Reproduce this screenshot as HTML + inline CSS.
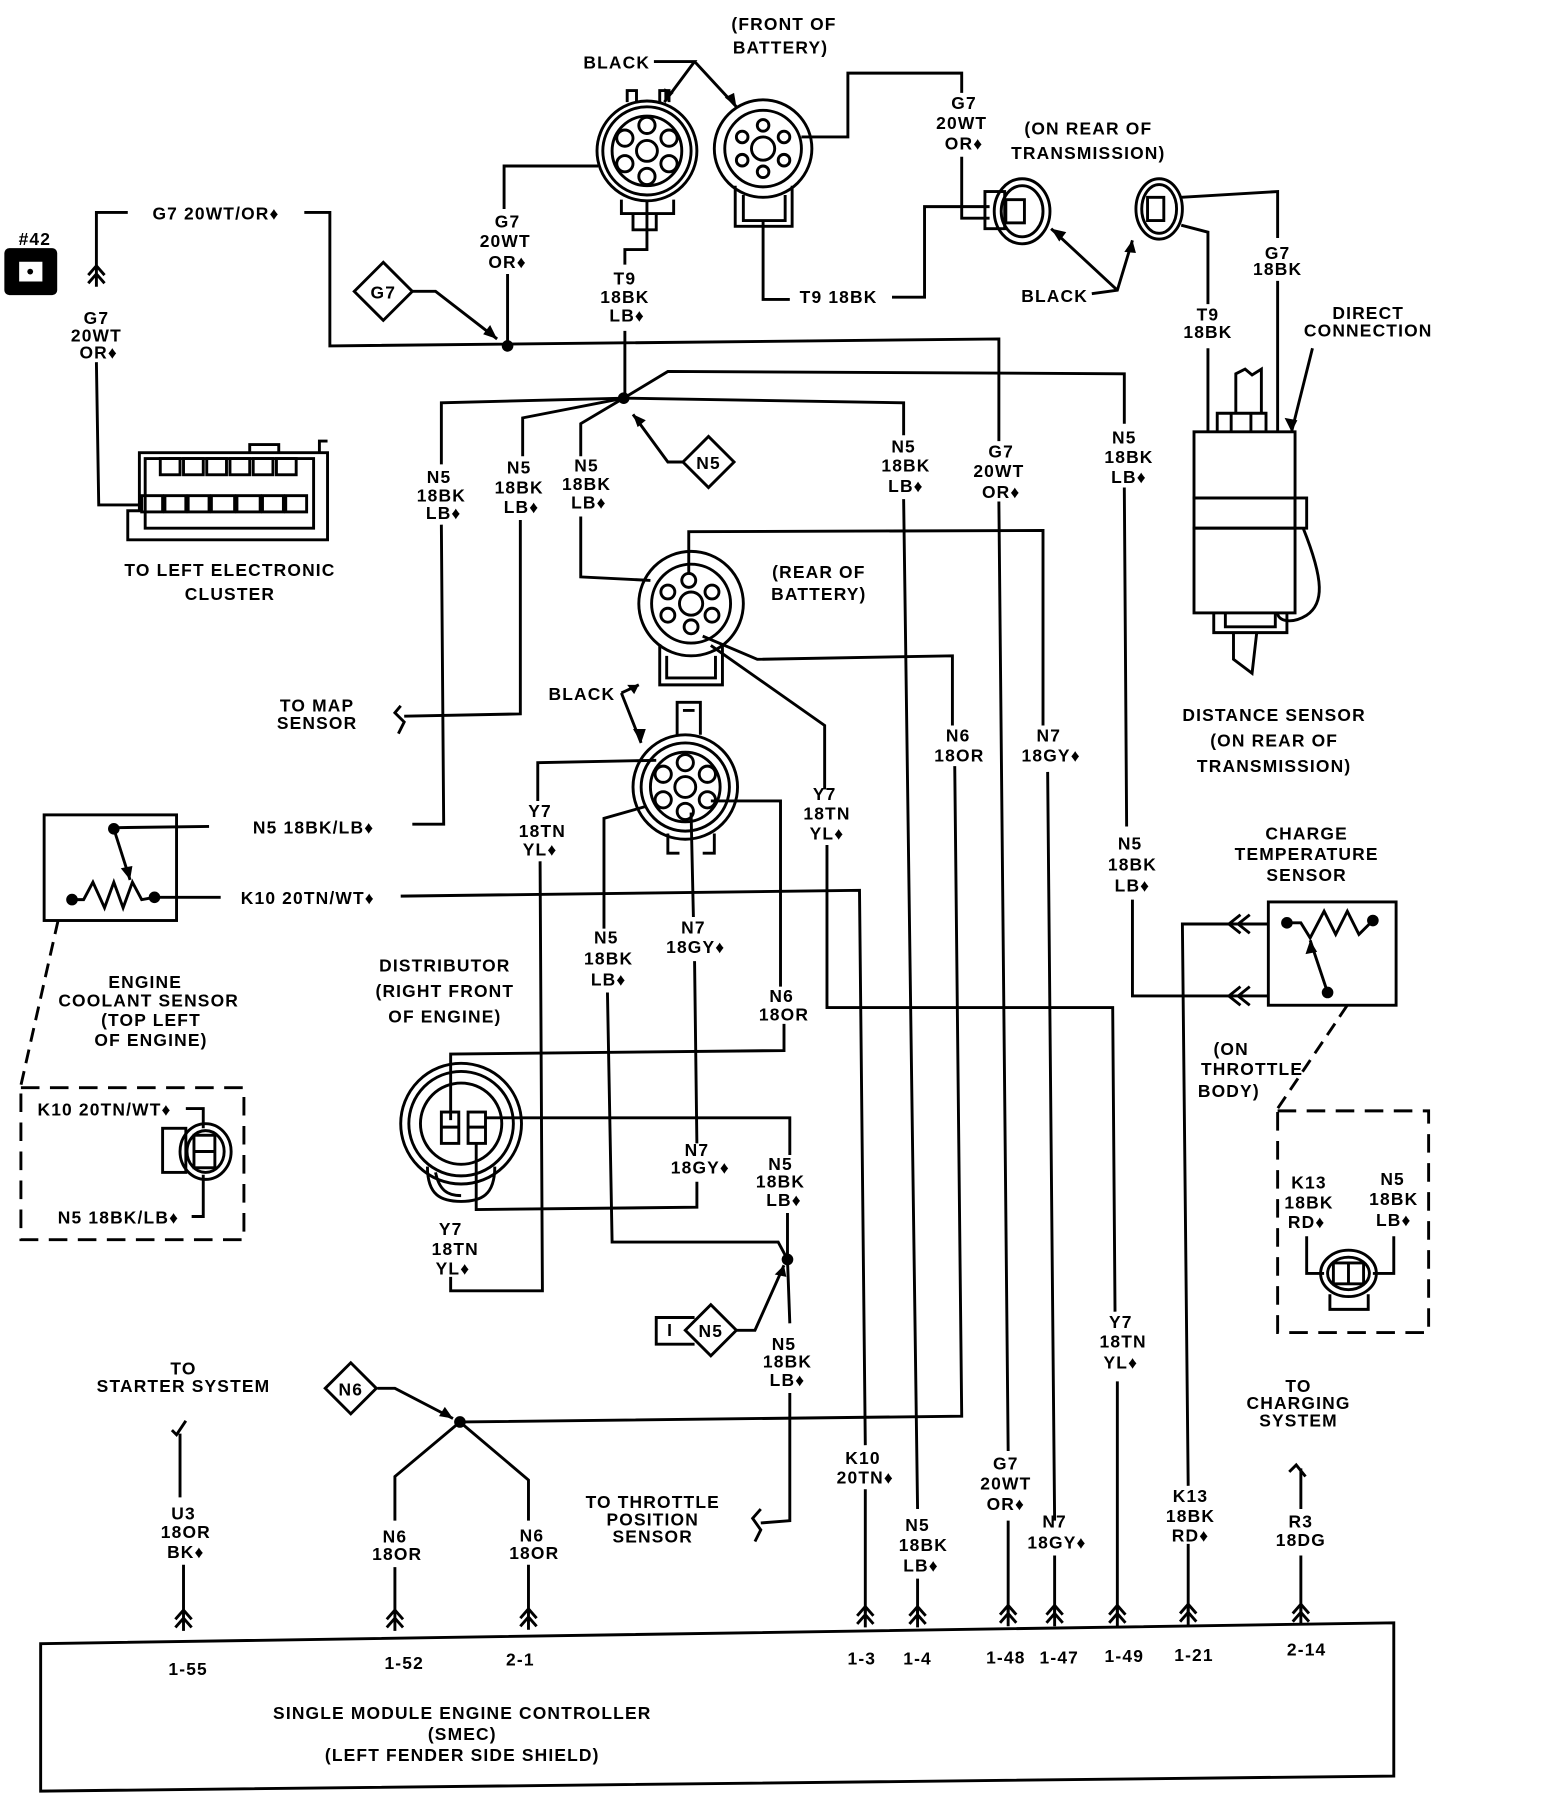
<!DOCTYPE html>
<html><head><meta charset="utf-8"><style>
html,body{margin:0;padding:0;background:#fff;}
svg{display:block;}
text{font-family:"Liberation Sans",sans-serif;font-weight:bold;font-size:15px;text-anchor:middle;fill:#000;letter-spacing:1px;}
</style></head><body>
<svg width="1568" height="1812" viewBox="0 0 1350 1561" preserveAspectRatio="none" xmlns="http://www.w3.org/2000/svg">
<defs>
<g id="ch" fill="none" stroke="#000" stroke-width="2.5"><path d="M-7,-8 L0,-16 L7,-8 M-7,-1 L0,-9 L7,-1 M0,-16 L0,2"/></g>
<g id="dot"><circle r="5" fill="#000"/></g>
</defs>
<g fill="none" stroke="#000" stroke-width="2.5" stroke-linejoin="miter">
<path d="M563,53 L598,53 L572,88 M598,53 L634,92"/>
<circle cx="557" cy="130" r="43"/><circle cx="557" cy="130" r="38"/><circle cx="557" cy="130" r="30"/>
<circle cx="557" cy="130" r="9"/>
<circle cx="557" cy="108" r="7"/><circle cx="538" cy="119" r="7"/><circle cx="576" cy="119" r="7"/><circle cx="538" cy="141" r="7"/><circle cx="576" cy="141" r="7"/><circle cx="557" cy="152" r="7"/>
<path d="M540,88 L540,78 L548,78 L548,88 M568,88 L568,78 L576,78 L576,88"/>
<path d="M535,172 L535,184 L580,184 L580,172 M545,184 L545,198 L565,198 L565,184"/>
<circle cx="657" cy="128" r="42"/><circle cx="657" cy="128" r="33"/><circle cx="657" cy="128" r="10"/>
<circle cx="657" cy="108" r="5"/><circle cx="639" cy="118" r="5"/><circle cx="675" cy="118" r="5"/><circle cx="639" cy="138" r="5"/><circle cx="675" cy="138" r="5"/><circle cx="657" cy="148" r="5"/>
<path d="M633,160 L633,195 L682,195 L682,160 M640,168 L640,190 L676,190 L676,168"/>
<path d="M515,143 L434,143 L434,180 M437,236 L437,298"/>
<path d="M557,172 L557,215 L538,215 L538,228 M538,285 L538,343"/>
<path d="M657,190 L657,258 L680,258 M768,256 L796,256 L796,178 L852,178"/>
<path d="M690,118 L730,118 L730,63 L828,63 L828,80 M828,135 L828,188 L852,188"/>
<rect x="848" y="165" width="17" height="32"/>
<ellipse cx="880" cy="182" rx="24" ry="28"/><ellipse cx="880" cy="182" rx="18" ry="22"/>
<rect x="866" y="172" width="16" height="20"/>
<ellipse cx="998" cy="180" rx="20" ry="26"/><ellipse cx="998" cy="180" rx="15" ry="21"/>
<rect x="988" y="170" width="14" height="20"/>
<path d="M940,253 L962,250 L975,207 M962,250 L905,197"/>
<path d="M1017,170 L1100,165 L1100,205 M1100,242 L1100,372 M1017,194 L1040,200 L1040,262 M1040,300 L1040,372"/>
<path d="M1130,300 L1112,372"/>
<rect x="1028" y="372" width="87" height="57"/>
<rect x="1028" y="429" width="87" height="26"/><rect x="1115" y="429" width="10" height="26"/>
<rect x="1028" y="455" width="87" height="73"/>
<path d="M1048,372 L1048,356 L1090,356 L1090,372 M1060,356 L1060,372 M1077,356 L1077,372 M1064,356 L1064,322 L1072,318 L1078,323 L1086,318 L1086,356"/>
<path d="M1045,528 L1045,545 L1108,545 L1108,528 M1055,528 L1055,540 L1098,540 L1098,528 M1062,545 L1062,568 L1078,580 L1082,545"/>
<path d="M1122,455 C1140,500 1140,520 1125,530 C1112,538 1100,535 1100,528"/>
<rect x="5" y="215" width="43" height="38" rx="3" fill="#000"/>
<rect x="17" y="226" width="19" height="16" fill="#fff" stroke="#fff" stroke-width="1"/>
<circle cx="26" cy="234" r="2.5" fill="#000" stroke="none"/>
<path d="M83,232 L83,183 L110,183 M262,183 L284,183 L284,298 L860,292 L860,380 M860,432 L868,1250 M868,1310 L868,1390"/>
<path d="M83,312 L85,435 L122,435"/>
<path d="M355,251 L375,251 L428,292"/>
<path d="M305,251 L330,226 L355,251 L330,276 Z"/>
<path d="M120,390 L282,390 L282,465 L110,465 L110,440 L120,440 Z"/>
<path d="M125,395 L270,395 L270,455 L125,455 Z"/>
<rect x="138" y="395" width="17" height="14"/><rect x="158" y="395" width="17" height="14"/><rect x="178" y="395" width="17" height="14"/><rect x="198" y="395" width="17" height="14"/><rect x="218" y="395" width="17" height="14"/><rect x="238" y="395" width="17" height="14"/>
<rect x="122" y="427" width="18" height="14"/><rect x="142" y="427" width="18" height="14"/><rect x="162" y="427" width="18" height="14"/><rect x="182" y="427" width="20" height="14"/><rect x="204" y="427" width="20" height="14"/><rect x="226" y="427" width="18" height="14"/><rect x="246" y="427" width="18" height="14"/>
<path d="M215,390 L215,383 L240,383 L240,390 M275,390 L275,380 L282,380"/>
<path d="M537,343 L380,347 L380,400 M380,452 L382,710 L355,710 M180,712 L100,713"/>
<path d="M537,343 L450,360 L450,393 M448,448 L448,615 L348,617"/>
<path d="M345,608 L340,614 L348,622 L343,632"/>
<path d="M537,343 L500,365 L500,393 M500,445 L500,497 L560,500"/>
<path d="M537,343 L575,320 L968,322 L968,365 M968,420 L970,712 M975,775 L975,858 L1092,858"/>
<path d="M537,343 L778,347 L778,375 M778,430 L790,1300 M790,1360 L790,1390"/>
<path d="M588,398 L575,398 L545,357"/>
<path d="M588,398 L610,376 L632,398 L610,420 Z"/>
<circle cx="595" cy="520" r="45"/><circle cx="595" cy="520" r="34"/><circle cx="595" cy="520" r="10"/>
<circle cx="593" cy="500" r="6"/><circle cx="575" cy="510" r="6"/><circle cx="613" cy="510" r="6"/><circle cx="575" cy="530" r="6"/><circle cx="613" cy="530" r="6"/><circle cx="595" cy="540" r="6"/>
<path d="M568,555 L568,590 L622,590 L622,555 M574,565 L574,584 L616,584 L616,565"/>
<path d="M593,494 L593,458 L898,457 L898,625 M902,665 L908,1310 M908,1340 L908,1390"/>
<path d="M605,548 L652,568 L820,565 L820,625 M822,660 L828,1220 L398,1225"/>
<path d="M612,556 L710,625 L710,680 M712,728 L712,868 L958,868 L960,1130 M962,1190 L962,1390"/>
<path d="M535,597 L550,590 M535,597 L552,640"/>
<circle cx="590" cy="678" r="45"/><circle cx="590" cy="678" r="38"/><circle cx="590" cy="678" r="30"/><circle cx="590" cy="678" r="9"/>
<circle cx="590" cy="657" r="7"/><circle cx="571" cy="667" r="7"/><circle cx="609" cy="667" r="7"/><circle cx="571" cy="689" r="7"/><circle cx="609" cy="689" r="7"/><circle cx="590" cy="699" r="7"/>
<path d="M583,633 L583,605 L603,605 L603,633 M588,612 L598,612"/>
<path d="M575,718 L575,735 L585,735 M605,735 L615,735 L615,718"/>
<path d="M565,655 L463,657 L463,690 M465,742 L467,1112 L388,1112 L388,1100"/>
<path d="M612,690 L672,690 L672,850 M675,882 L675,905 L388,908 L388,965"/>
<path d="M555,695 L520,705 L520,800 M523,855 L527,1070 L670,1070 L678,1085"/>
<path d="M595,700 L597,790 M598,828 L600,985 M600,1018 L600,1040 L410,1042 L410,985"/>
<path d="M418,963 L680,963 L680,995 M678,1045 L678,1085 L680,1140 M680,1200 L680,1310 L655,1312"/>
<path d="M655,1300 L648,1308 L655,1318 L650,1328"/>
<path d="M633,1146 L650,1146 L675,1090"/>
<path d="M590,1146 L612,1124 L634,1146 L612,1168 Z"/>
<path d="M598,1135 L565,1135 L565,1158 L598,1158"/>
<path d="M133,773 L190,773 M345,772 L740,767 L745,1245 M745,1283 L745,1390"/>
<rect x="38" y="702" width="114" height="91"/>
<path d="M62,775 L72,775 L80,760 L90,782 L98,760 L106,782 L114,760 L122,775 L133,773"/>
<path d="M98,714 L112,758"/>
<path d="M50,793 L18,935" stroke-dasharray="12,7"/>
<rect x="18" y="937" width="192" height="131" stroke-dasharray="16,9"/>
<path d="M160,955 L175,955 L175,972 M165,1048 L175,1048 L175,1012"/>
<rect x="140" y="972" width="20" height="38"/>
<ellipse cx="177" cy="992" rx="22" ry="24"/><ellipse cx="177" cy="992" rx="16" ry="18"/>
<rect x="167" y="978" width="18" height="28"/><path d="M167,992 L185,992"/>
<circle cx="397" cy="968" r="52"/><circle cx="397" cy="968" r="45"/><circle cx="397" cy="968" r="35"/>
<path d="M368,1005 C368,1030 380,1035 397,1035 C414,1035 426,1030 426,1005 M375,1010 C378,1025 385,1030 397,1030"/>
<rect x="380" y="958" width="15" height="27"/><rect x="403" y="958" width="15" height="27"/>
<path d="M380,971 L395,971 M403,971 L418,971"/>
<rect x="1092" y="777" width="110" height="89"/>
<path d="M1108,795 L1120,795 L1128,808 L1140,785 L1150,805 L1160,785 L1170,805 L1182,793"/>
<path d="M1143,855 L1128,810"/>
<path d="M1092,796 L1018,796 L1023,1280 M1023,1330 L1023,1390"/>
<path d="M1068,788 L1058,796 L1068,804 M1076,788 L1066,796 L1076,804 M1068,850 L1058,858 L1068,866 M1076,850 L1066,858 L1076,866"/>
<path d="M1160,866 L1100,955" stroke-dasharray="12,7"/>
<rect x="1100" y="957" width="130" height="191" stroke-dasharray="16,9"/>
<path d="M1125,1065 L1125,1097 L1140,1097 M1182,1097 L1200,1097 L1200,1065"/>
<ellipse cx="1161" cy="1097" rx="24" ry="20"/><ellipse cx="1161" cy="1097" rx="18" ry="14"/>
<rect x="1148" y="1088" width="26" height="18"/><path d="M1161,1088 L1161,1106"/>
<path d="M1145,1115 L1145,1128 L1178,1128 L1178,1115"/>
<path d="M325,1196 L340,1196 L390,1222"/>
<path d="M280,1196 L302,1174 L324,1196 L302,1218 Z"/>
<path d="M396,1225 L340,1272 L340,1310 M340,1350 L340,1390 M396,1225 L455,1275 L455,1310 M455,1348 L455,1390"/>
<path d="M148,1232 L152,1236 L160,1224 M155,1235 L155,1290 M158,1348 L158,1390"/>
<path d="M1110,1268 L1116,1262 L1124,1272 M1120,1265 L1120,1300 M1120,1340 L1120,1390"/>
<path d="M35,1416 L1200,1398 L1200,1530 L35,1543 Z"/>
</g>
<use href="#dot" x="437" y="298"/><use href="#dot" x="537" y="343"/><use href="#dot" x="678" y="1085"/><use href="#dot" x="396" y="1225"/>
<circle cx="98" cy="714" r="5"/><circle cx="62" cy="775" r="5"/><circle cx="133" cy="773" r="5"/>
<circle cx="1108" cy="795" r="5"/><circle cx="1182" cy="793" r="5"/><circle cx="1143" cy="855" r="5"/>
<polygon points="572,88 572,76 580,80" /><polygon points="634,92 624,84 632,80"/>
<polygon points="428,292 416,288 422,280"/><polygon points="545,357 556,362 549,368"/>
<polygon points="390,1222 378,1220 383,1212"/><polygon points="675,1090 667,1098 677,1100"/>
<polygon points="552,640 545,628 556,628"/><polygon points="550,590 540,590 546,598"/>
<polygon points="905,197 912,208 918,200"/><polygon points="975,207 968,217 978,218"/>
<polygon points="1112,372 1106,360 1117,362"/>
<polygon points="112,758 104,748 114,746"/><polygon points="1128,810 1124,822 1134,820"/>
<use href="#ch" x="83" y="245"/>
<use href="#ch" x="158" y="1403"/><use href="#ch" x="340" y="1403"/><use href="#ch" x="455" y="1402"/>
<use href="#ch" x="745" y="1400"/><use href="#ch" x="790" y="1400"/><use href="#ch" x="868" y="1399"/><use href="#ch" x="908" y="1399"/><use href="#ch" x="962" y="1399"/><use href="#ch" x="1023" y="1398"/><use href="#ch" x="1120" y="1398"/>
<text x="675" y="26">(FRONT OF</text><text x="672" y="46">BATTERY)</text>
<text x="531" y="59">BLACK</text>
<text x="437" y="196">G7</text><text x="435" y="213">20WT</text><text x="437" y="231">OR♦</text>
<text x="538" y="245">T9</text><text x="538" y="261">18BK</text><text x="540" y="277">LB♦</text>
<text x="722" y="261">T9  18BK</text>
<text x="830" y="94">G7</text><text x="828" y="111">20WT</text><text x="830" y="129">OR♦</text>
<text x="937" y="116">(ON REAR OF</text><text x="937" y="137">TRANSMISSION)</text>
<text x="908" y="260">BLACK</text>
<text x="1100" y="223">G7</text><text x="1100" y="237">18BK</text>
<text x="1040" y="276">T9</text><text x="1040" y="291">18BK</text>
<text x="1178" y="275">DIRECT</text><text x="1178" y="290">CONNECTION</text>
<text x="1097" y="621">DISTANCE SENSOR</text><text x="1097" y="643">(ON REAR OF</text><text x="1097" y="665">TRANSMISSION)</text>
<text x="30" y="211">#42</text>
<text x="186" y="189">G7 20WT/OR♦</text>
<text x="83" y="279">G7</text><text x="83" y="294">20WT</text><text x="85" y="309">OR♦</text>
<text x="330" y="257">G7</text>
<text x="198" y="496">TO LEFT ELECTRONIC</text><text x="198" y="517">CLUSTER</text>
<text x="378" y="416">N5</text><text x="380" y="432">18BK</text><text x="382" y="447">LB♦</text>
<text x="447" y="408">N5</text><text x="447" y="425">18BK</text><text x="449" y="442">LB♦</text>
<text x="505" y="406">N5</text><text x="505" y="422">18BK</text><text x="507" y="438">LB♦</text>
<text x="610" y="404">N5</text>
<text x="778" y="390">N5</text><text x="780" y="406">18BK</text><text x="780" y="424">LB♦</text>
<text x="862" y="394">G7</text><text x="860" y="411">20WT</text><text x="862" y="429">OR♦</text>
<text x="968" y="382">N5</text><text x="972" y="399">18BK</text><text x="972" y="416">LB♦</text>
<text x="705" y="498">(REAR OF</text><text x="705" y="517">BATTERY)</text>
<text x="501" y="603">BLACK</text>
<text x="273" y="613">TO MAP</text><text x="273" y="628">SENSOR</text>
<text x="825" y="639">N6</text><text x="826" y="656">18OR</text>
<text x="903" y="639">N7</text><text x="905" y="656">18GY♦</text>
<text x="710" y="689">Y7</text><text x="712" y="706">18TN</text><text x="712" y="723">YL♦</text>
<text x="465" y="704">Y7</text><text x="467" y="721">18TN</text><text x="465" y="737">YL♦</text>
<text x="270" y="718">N5  18BK/LB♦</text>
<text x="265" y="779">K10 20TN/WT♦</text>
<text x="973" y="732">N5</text><text x="975" y="750">18BK</text><text x="975" y="768">LB♦</text>
<text x="1125" y="723">CHARGE</text><text x="1125" y="741">TEMPERATURE</text><text x="1125" y="759">SENSOR</text>
<text x="522" y="813">N5</text><text x="524" y="831">18BK</text><text x="524" y="849">LB♦</text>
<text x="597" y="804">N7</text><text x="599" y="821">18GY♦</text>
<text x="383" y="837">DISTRIBUTOR</text><text x="383" y="859">(RIGHT FRONT</text><text x="383" y="881">OF ENGINE)</text>
<text x="125" y="851">ENGINE</text><text x="128" y="867">COOLANT SENSOR</text><text x="130" y="884">(TOP LEFT</text><text x="130" y="901">OF ENGINE)</text>
<text x="673" y="863">N6</text><text x="675" y="879">18OR</text>
<text x="1060" y="909">(ON</text><text x="1078" y="926">THROTTLE</text><text x="1058" y="945">BODY)</text>
<text x="90" y="961">K10 20TN/WT♦</text><text x="102" y="1054">N5  18BK/LB♦</text>
<text x="600" y="996">N7</text><text x="603" y="1011">18GY♦</text>
<text x="672" y="1008">N5</text><text x="672" y="1023">18BK</text><text x="675" y="1039">LB♦</text>
<text x="1127" y="1024">K13</text><text x="1127" y="1041">18BK</text><text x="1125" y="1058">RD♦</text>
<text x="1199" y="1021">N5</text><text x="1200" y="1038">18BK</text><text x="1200" y="1056">LB♦</text>
<text x="388" y="1064">Y7</text><text x="392" y="1081">18TN</text><text x="390" y="1098">YL♦</text>
<text x="577" y="1151">I</text><text x="612" y="1152">N5</text>
<text x="675" y="1163">N5</text><text x="678" y="1178">18BK</text><text x="678" y="1194">LB♦</text>
<text x="965" y="1144">Y7</text><text x="967" y="1161">18TN</text><text x="965" y="1179">YL♦</text>
<text x="158" y="1184">TO</text><text x="158" y="1199">STARTER SYSTEM</text>
<text x="302" y="1202">N6</text>
<text x="1118" y="1199">TO</text><text x="1118" y="1214">CHARGING</text><text x="1118" y="1229">SYSTEM</text>
<text x="743" y="1261">K10</text><text x="745" y="1278">20TN♦</text>
<text x="866" y="1266">G7</text><text x="866" y="1283">20WT</text><text x="866" y="1301">OR♦</text>
<text x="1025" y="1294">K13</text><text x="1025" y="1311">18BK</text><text x="1025" y="1328">RD♦</text>
<text x="158" y="1309">U3</text><text x="160" y="1325">18OR</text><text x="160" y="1342">BK♦</text>
<text x="562" y="1299">TO THROTTLE</text><text x="562" y="1314">POSITION</text><text x="562" y="1329">SENSOR</text>
<text x="340" y="1329">N6</text><text x="342" y="1344">18OR</text>
<text x="458" y="1328">N6</text><text x="460" y="1343">18OR</text>
<text x="790" y="1319">N5</text><text x="795" y="1336">18BK</text><text x="793" y="1354">LB♦</text>
<text x="908" y="1316">N7</text><text x="910" y="1334">18GY♦</text>
<text x="1120" y="1316">R3</text><text x="1120" y="1332">18DG</text>
<text x="162" y="1443">1-55</text><text x="348" y="1438">1-52</text><text x="448" y="1435">2-1</text>
<text x="742" y="1434">1-3</text><text x="790" y="1434">1-4</text><text x="866" y="1433">1-48</text><text x="912" y="1433">1-47</text><text x="968" y="1432">1-49</text><text x="1028" y="1431">1-21</text><text x="1125" y="1426">2-14</text>
<text x="398" y="1481">SINGLE MODULE ENGINE CONTROLLER</text><text x="398" y="1499">(SMEC)</text><text x="398" y="1517">(LEFT FENDER SIDE SHIELD)</text>
</svg>
</body></html>
